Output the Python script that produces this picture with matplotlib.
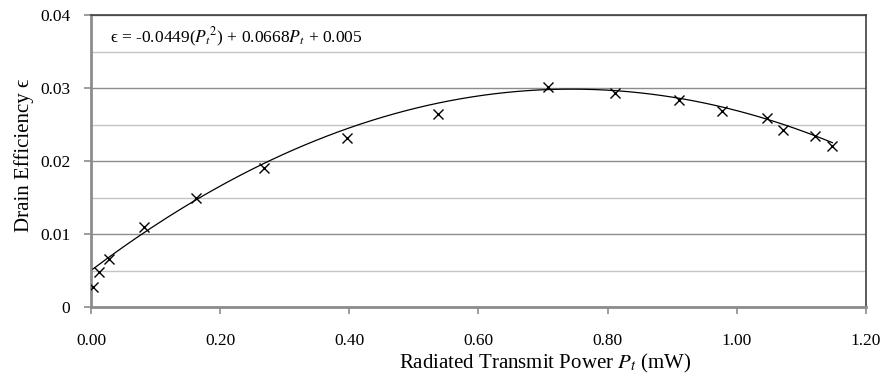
import numpy as np
import matplotlib
matplotlib.use("Agg")
import matplotlib.pyplot as plt
from matplotlib.ticker import MultipleLocator, FormatStrFormatter

plt.rcParams["font.family"] = ["Liberation Serif", "DejaVu Serif"]
plt.rcParams["mathtext.fontset"] = "stix"

# Measured radiated power (mW) and drain efficiency
power_mw = [0.003, 0.012, 0.028, 0.082, 0.163, 0.268, 0.397, 0.537,
            0.707, 0.812, 0.910, 0.977, 1.047, 1.072, 1.121, 1.148]
efficiency = [0.0028, 0.0048, 0.0066, 0.0110, 0.0150, 0.0191, 0.0231, 0.0265,
              0.0301, 0.0293, 0.0284, 0.0268, 0.0259, 0.0242, 0.0234, 0.0221]

# Quadratic trendline coefficients (a*P^2 + b*P + c)
fit_coeffs = [-0.0449, 0.0668, 0.005]

x_ticks = [0.0, 0.2, 0.4, 0.6, 0.8, 1.0, 1.2]
y_ticks = [0.0, 0.01, 0.02, 0.03, 0.04]

fig = plt.figure(figsize=(8.85, 3.78), dpi=100)
ax = fig.add_axes([0.1028, 0.1878, 0.8757, 0.7725])

ax.set_xlim(0, 1.2)
ax.set_ylim(0, 0.04)

# gridlines: major every 0.01, minor every 0.005
ax.yaxis.set_major_locator(MultipleLocator(0.01))
ax.yaxis.set_minor_locator(MultipleLocator(0.005))
ax.grid(axis="y", which="major", color="#8c8c8c", linewidth=1.0, zorder=0)
ax.grid(axis="y", which="minor", color="#c4c4c4", linewidth=1.0, zorder=0)
ax.set_axisbelow(True)

x_fit = np.linspace(min(power_mw), max(power_mw), 200)
y_fit = np.polyval(fit_coeffs, x_fit)
ax.plot(x_fit, y_fit, color="black", linewidth=0.9, zorder=3)

ax.plot(power_mw, efficiency, linestyle="none", marker="x", color="black",
        markersize=6.5, markeredgewidth=1.0, zorder=4)

ax.set_xticks(x_ticks)
ax.xaxis.set_major_formatter(FormatStrFormatter("%.2f"))
ax.set_yticks(y_ticks)
ax.set_yticklabels(["0", "0.01", "0.02", "0.03", "0.04"])

ax.tick_params(axis="x", which="major", direction="out", length=5, width=1.2,
               color="#8c8c8c", pad=14, labelsize=12.5)
ax.tick_params(axis="y", which="major", direction="out", length=5, width=1.2,
               color="#8c8c8c", pad=10, labelsize=12.5)
ax.tick_params(axis="y", which="minor", length=0)

for side in ("left", "bottom"):
    ax.spines[side].set_color("#8c8c8c")
    ax.spines[side].set_linewidth(2.0)
for side in ("top", "right"):
    ax.spines[side].set_color("#404040")
    ax.spines[side].set_linewidth(1.2)

ax.set_xlabel(r"Radiated Transmit Power $P_t$ (mW)", fontsize=15, labelpad=2)
ax.xaxis.label.set_x(0.586)
ax.set_ylabel("Drain Efficiency ϵ", fontsize=15, labelpad=4)
ax.yaxis.label.set_y(0.52)

ax.text(0.025, 0.925,
        r"ϵ = -0.0449($P_t$$^2$) + 0.0668$P_t$ + 0.005",
        transform=ax.transAxes, fontsize=12.5, va="center", ha="left")

fig.savefig("out.png", dpi=100)
